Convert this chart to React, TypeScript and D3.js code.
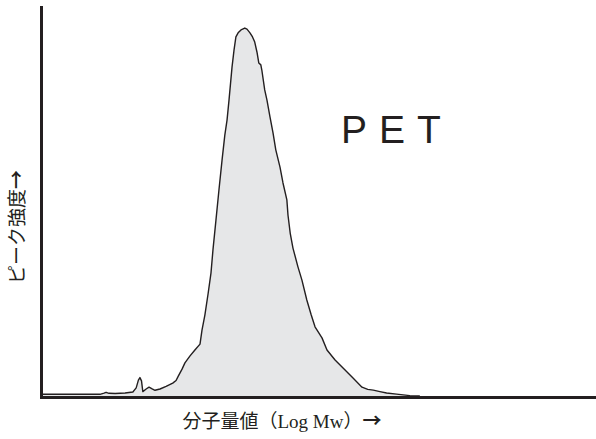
import React from "react";
import * as d3 from "d3";

// GPC elution trace of PET: log molecular weight vs. relative peak intensity
const logMw = [
  2.0, 2.523, 2.56, 2.578, 2.605, 2.66, 2.75, 2.82, 2.85, 2.87, 2.884, 2.898, 2.91,
  2.94, 2.966, 2.99, 3.02, 3.065, 3.12, 3.18, 3.21, 3.23, 3.264, 3.29, 3.336, 3.38,
  3.426, 3.444, 3.47, 3.5, 3.525, 3.543, 3.57, 3.597, 3.625, 3.65, 3.67, 3.688, 3.715,
  3.733, 3.75, 3.77, 3.796, 3.83, 3.85, 3.877, 3.9, 3.92, 3.94, 3.957, 3.975, 3.984,
  4.01, 4.03, 4.058, 4.085, 4.11, 4.148, 4.175, 4.21, 4.22, 4.24, 4.265, 4.31, 4.346,
  4.39, 4.43, 4.464, 4.527, 4.572, 4.645, 4.717, 4.807, 4.888, 4.94, 4.99, 5.05, 5.11,
  5.2, 5.32, 5.41,
];
const intensity = [
  0.46, 0.46, 0.8, 1.0, 0.73, 0.68, 0.8, 1.1, 2.2, 4.3, 5.0, 4.1, 1.2,
  1.9, 2.4, 2.0, 1.55, 1.9, 2.6, 3.5, 4.2, 5.4, 7.3, 9.0, 10.9, 12.5,
  14.1, 17.9, 22.0, 28.0, 33.4, 39.7, 47.8, 56.0, 64.1, 70.9, 75.0, 80.5, 89.4,
  94.0, 97.6, 98.7, 99.5, 100, 99.7, 98.7, 97.6, 96.2, 93.5, 90.5, 90.0, 88.6,
  83.2, 80.5, 75.8, 71.5, 66.9, 62.2, 57.9, 53.3, 49.2, 44.3, 40.2, 35.1, 31.5,
  26.1, 22.0, 18.8, 15.8, 12.5, 9.8, 7.6, 4.9, 2.4, 1.8, 1.6, 1.2, 0.8,
  0.5, 0.1, 0,
];

const sampleName = "PET";
const xLabel = "分子量値（Log Mw）";
const yLabel = "ピーク強度";
const arrow = "→";

const W = 596;
const H = 439;
const INK = "#231f20";
const SERIF = "'Liberation Serif', 'Noto Sans CJK JP', serif";
const CJK = "'Noto Sans CJK JP', sans-serif";

export default function App() {
  const x = d3.scaleLinear().domain([2, 7]).range([42, 596]);
  const y = d3.scaleLinear().domain([0, 106]).range([396, 6]);

  const pts = logMw.map((v, i) => [v, intensity[i]] as [number, number]);

  const area = d3
    .area<[number, number]>()
    .x((d) => x(d[0]))
    .y0(y(0))
    .y1((d) => y(d[1]))
    .curve(d3.curveLinear);
  const line = d3
    .line<[number, number]>()
    .x((d) => x(d[0]))
    .y((d) => y(d[1]))
    .curve(d3.curveLinear);

  const [x0, x1] = x.range();
  const [yb, yt] = y.range();

  return (
    <svg
      width={W}
      height={H}
      viewBox={`0 0 ${W} ${H}`}
      style={{ position: "absolute", left: 0, top: 0, background: "#fff" }}
    >
      <path d={area(pts) ?? ""} fill="#e6e7e8" stroke="none" />
      <path d={line(pts) ?? ""} fill="none" stroke={INK} strokeWidth={1.4} strokeLinejoin="round" />

      {/* axes */}
      <line x1={x0 - 0.5} x2={x0 - 0.5} y1={yt} y2={yb + 3} stroke={INK} strokeWidth={3} />
      <line x1={x0 - 2} x2={x1} y1={yb + 1.5} y2={yb + 1.5} stroke={INK} strokeWidth={3} />

      <text
        x={341}
        y={143}
        fontFamily="'Liberation Sans', Arial, sans-serif"
        fontSize={39}
        letterSpacing={12}
        fill={INK}
      >
        {sampleName}
      </text>

      <text
        x={282}
        y={428}
        textAnchor="middle"
        fontFamily={SERIF}
        fontSize={19}
        fill={INK}
      >
        {xLabel}
        <tspan fontFamily={CJK} fontWeight={700}>
          {arrow}
        </tspan>
      </text>

      <text
        transform="translate(24,227) rotate(-90)"
        textAnchor="middle"
        fontFamily={SERIF}
        fontSize={19}
        fill={INK}
      >
        {yLabel}
        <tspan fontFamily={CJK} fontWeight={700}>
          {arrow}
        </tspan>
      </text>
    </svg>
  );
}
